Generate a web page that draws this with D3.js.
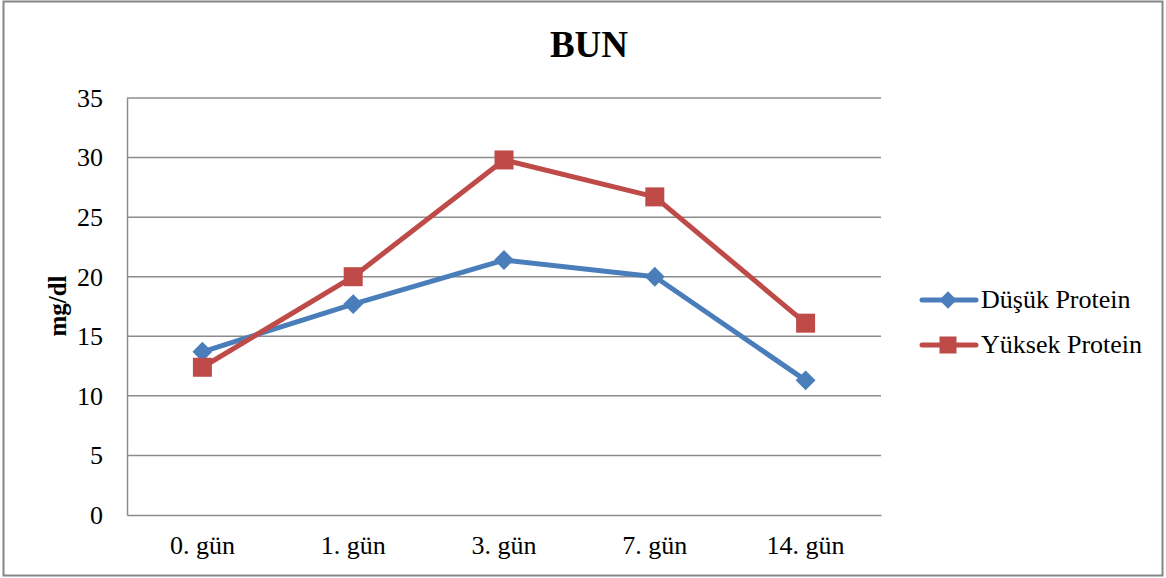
<!DOCTYPE html>
<html>
<head>
<meta charset="utf-8">
<script src="https://cdn.jsdelivr.net/npm/d3@7"></script>
<style>
  html, body { margin: 0; padding: 0; background: #fff; }
  svg { display: block; }
  text { font-family: "Liberation Serif", "Times New Roman", serif; fill: #000; }
</style>
</head>
<body>
<svg id="chart" width="1166" height="578"></svg>
<script>
// Days of measurement
const categories = ["0. gün", "1. gün", "3. gün", "7. gün", "14. gün"];
// BUN (mg/dl) per diet group
const dusukProtein = [13.7, 17.7, 21.4, 20.0, 11.3];
const yuksekProtein = [12.4, 20.0, 29.8, 26.7, 16.1];
const yTicks = [0, 5, 10, 15, 20, 25, 30, 35];

const series = [
  { name: "Düşük Protein", values: dusukProtein, color: "#4a7ebb", marker: "diamond" },
  { name: "Yüksek Protein", values: yuksekProtein, color: "#be4b48", marker: "square" }
];

const svg = d3.select("#chart");
const W = 1166, H = 578;
const plot = { left: 127, right: 881, top: 98, bottom: 515 };
const FONT = "'Liberation Serif', serif";

// Outer frame
svg.append("rect")
  .attr("x", 3.5).attr("y", 1.5)
  .attr("width", W - 7).attr("height", H - 4)
  .attr("fill", "#fff").attr("stroke", "#868686").attr("stroke-width", 2);

const x = d3.scaleBand().domain(categories).range([plot.left, plot.right]);
const y = d3.scaleLinear().domain([0, 35]).range([plot.bottom, plot.top]);

// Horizontal grid lines
svg.append("g").selectAll("line")
  .data(yTicks.filter(t => t > 0))
  .join("line")
  .attr("x1", plot.left).attr("x2", plot.right)
  .attr("y1", d => y(d)).attr("y2", d => y(d))
  .attr("stroke", "#8c8c8c").attr("stroke-width", 1.5);

// Y axis
const yAxis = svg.append("g")
  .attr("transform", `translate(${plot.left},0)`)
  .call(d3.axisLeft(y).tickValues(yTicks).tickSize(0).tickPadding(24));
yAxis.select(".domain").attr("stroke", "#8c8c8c").attr("stroke-width", 1.5);
yAxis.selectAll("text").style("font-size", "26px").style("font-family", FONT);

// X axis
const xAxis = svg.append("g")
  .attr("transform", `translate(0,${plot.bottom})`)
  .call(d3.axisBottom(x).tickSize(0).tickPadding(21));
xAxis.select(".domain").attr("stroke", "#8c8c8c").attr("stroke-width", 1.5);
xAxis.selectAll("text").style("font-size", "26px").style("font-family", FONT);

// Title
svg.append("text")
  .attr("x", 589).attr("y", 57)
  .attr("text-anchor", "middle")
  .style("font-size", "37px").style("font-weight", "bold")
  .text("BUN");

// Y axis title
svg.append("text")
  .attr("transform", "translate(66,306) rotate(-90)")
  .attr("text-anchor", "middle")
  .style("font-size", "25px").style("font-weight", "bold")
  .text("mg/dl");

const cx = d => x(d) + x.bandwidth() / 2;
const line = d3.line().x(d => cx(d.cat)).y(d => y(d.v));

function drawMarker(g, type, color, px, py, s) {
  if (type === "square") {
    g.append("rect")
      .attr("x", px - s / 2).attr("y", py - s / 2)
      .attr("width", s).attr("height", s)
      .attr("fill", color);
  } else {
    const r = s * 0.62;
    g.append("path")
      .attr("d", `M${px},${py - r}L${px + r},${py}L${px},${py + r}L${px - r},${py}Z`)
      .attr("fill", color);
  }
}

series.forEach(s => {
  const pts = categories.map((c, i) => ({ cat: c, v: s.values[i] }));
  const g = svg.append("g");
  g.append("path")
    .attr("d", line(pts))
    .attr("fill", "none")
    .attr("stroke", s.color)
    .attr("stroke-width", 5)
    .attr("stroke-linejoin", "round");
  pts.forEach(p => drawMarker(g, s.marker, s.color, cx(p.cat), y(p.v), s.marker === "square" ? 19 : 16));
});

// Legend
const legend = svg.append("g");
series.forEach((s, i) => {
  const ly = 300 + i * 45;
  legend.append("line")
    .attr("x1", 922).attr("x2", 976)
    .attr("y1", ly).attr("y2", ly)
    .attr("stroke", s.color).attr("stroke-width", 5)
    .attr("stroke-linecap", "round");
  drawMarker(legend, s.marker, s.color, 948, ly, s.marker === "square" ? 17 : 14);
  legend.append("text")
    .attr("x", 981).attr("y", ly + 8)
    .style("font-size", "26px")
    .text(s.name);
});
</script>
</body>
</html>
